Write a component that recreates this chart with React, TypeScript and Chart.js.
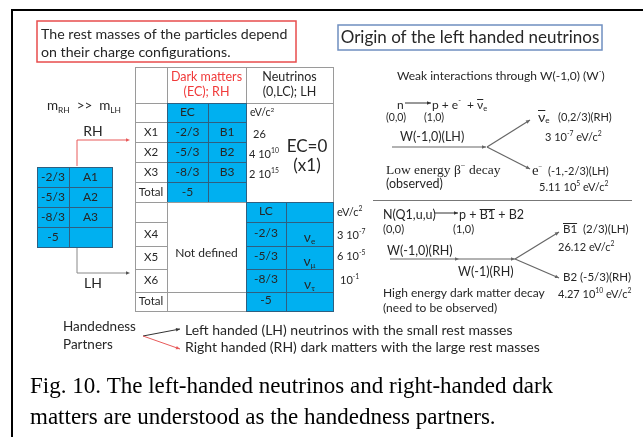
import { useEffect, useRef } from "react";
import { Chart, registerables } from "chart.js";

Chart.register(...registerables);

// ---------------- DATA ----------------
const upperRowLabels = ["", "X1", "X2", "X3", "Total"];
const lowerRowLabels = ["", "X4", "X5", "X6", "Total"];
const darkCharges = ["EC", "-2/3", "-5/3", "-8/3", "-5"];
const darkNames = ["", "B1", "B2", "B3", ""];
const darkMassMant = ["26", "4 10", "2 10"];
const darkMassExp = ["", "10", "15"];
const neutrinoCharges = ["LC", "-2/3", "-5/3", "-8/3", "-5"];
const neutrinoFlavors = ["", "e", "μ", "τ", ""];
const neutrinoMassMant = ["3 10", "6 10", "10"];
const neutrinoMassExp = ["-7", "-5", "-1"];
const leftCharges = ["-2/3", "-5/3", "-8/3", "-5"];
const leftNames = ["A1", "A2", "A3", ""];
const decayLowProducts = ["(0,2/3)(RH)", "(-1,-2/3)(LH)"];
const decayLowMasses = [["3 10", "-7"], ["5.11 10", "5"]];
const decayHighProducts = ["(2/3)(LH)", "(-5/3)(RH)"];
const decayHighMasses = [["26.12", ""], ["4.27 10", "10"]];

// ---------------- LAYOUT ----------------
const COLS = [135, 167, 208, 246, 286, 333];
const UPPER_ROWS = [103, 122, 142, 162, 182, 202];
const LOWER_ROWS = [202, 222, 246, 269, 292, 311];
const HEADER_TOP = 67;
const LEFT_COLS = [37, 69, 112];
const LEFT_ROWS = [167, 187, 207, 227, 247];

const SANS = "Lato, 'Open Sans', 'DejaVu Sans', sans-serif";
const SERIF = "'Liberation Serif', 'DejaVu Serif', serif";
const BLUE = "#00b0f0";
const BLUE_LINE = "#2f5f80";
const GRID = "#9a9a9a";
const TXT = "#262626";
const RED = "#f03a3a";

type Seg = { t: string; s?: "sup" | "sub"; bar?: boolean; k?: number; f?: string };

const diagramPlugin = {
  id: "diagram",
  beforeDraw(chart: any) {
    const c = chart.ctx;
    c.save();
    c.fillStyle = "#ffffff";
    c.fillRect(0, 0, chart.width, chart.height);
    c.restore();
  },
  afterDraw(chart: any) {
    const ctx: CanvasRenderingContext2D = chart.ctx;
    const sx = chart.scales.x;
    const sy = chart.scales.y;
    const X = (v: number) => sx.getPixelForValue(v);
    const Y = (v: number) => sy.getPixelForValue(v);

    ctx.save();

    const rich = (
      segs: Seg[],
      x: number,
      y: number,
      size: number,
      color = TXT,
      align: "left" | "center" | "right" = "left",
      family = SANS
    ) => {
      const parts = segs.map((sg) => {
        const sz = sg.s ? size * 0.62 * (sg.k || 1) : size * (sg.k || 1);
        const fam = sg.f || family;
        ctx.font = `${sz}px ${fam}`;
        return { sg, sz, fam, w: ctx.measureText(sg.t).width };
      });
      const total = parts.reduce((a, p) => a + p.w, 0);
      let cx = X(x);
      if (align === "center") cx -= total / 2;
      if (align === "right") cx -= total;
      const cy = Y(y);
      ctx.fillStyle = color;
      ctx.strokeStyle = color;
      ctx.textBaseline = "middle";
      ctx.textAlign = "left";
      for (const p of parts) {
        ctx.font = `${p.sz}px ${p.fam}`;
        let dy = 0;
        if (p.sg.s === "sup") dy = -size * 0.33;
        if (p.sg.s === "sub") dy = size * 0.3;
        ctx.fillText(p.sg.t, cx, cy + dy);
        if (p.sg.bar) {
          ctx.lineWidth = 1;
          ctx.beginPath();
          const by = Math.round(cy + dy - p.sz * 0.5) + 0.5;
          ctx.moveTo(cx, by);
          ctx.lineTo(cx + p.w, by);
          ctx.stroke();
        }
        cx += p.w;
      }
    };
    const text = (t: string, x: number, y: number, size: number, color = TXT, align: any = "left", family = SANS) =>
      rich([{ t }], x, y, size, color, align, family);

    const cell = (x0: number, y0: number, x1: number, y1: number, fill: string, stroke: string) => {
      const px0 = Math.round(X(x0)), py0 = Math.round(Y(y0));
      const px1 = Math.round(X(x1)), py1 = Math.round(Y(y1));
      ctx.fillStyle = fill;
      ctx.fillRect(px0, py0, px1 - px0, py1 - py0);
      ctx.strokeStyle = stroke;
      ctx.lineWidth = 1;
      ctx.strokeRect(px0 + 0.5, py0 + 0.5, px1 - px0, py1 - py0);
    };

    const line = (pts: number[][], color: string, lw = 1) => {
      ctx.strokeStyle = color;
      ctx.lineWidth = lw;
      ctx.beginPath();
      pts.forEach((p, i) => {
        const px = X(p[0]), py = Y(p[1]);
        if (i === 0) ctx.moveTo(px, py);
        else ctx.lineTo(px, py);
      });
      ctx.stroke();
    };

    const head = (x0: number, y0: number, x1: number, y1: number, color: string, hs = 4) => {
      const a = Math.atan2(Y(y1) - Y(y0), X(x1) - X(x0));
      const px = X(x1), py = Y(y1);
      ctx.fillStyle = color;
      ctx.beginPath();
      ctx.moveTo(px, py);
      ctx.lineTo(px - hs * Math.cos(a) + hs * 0.45 * Math.sin(a), py - hs * Math.sin(a) - hs * 0.45 * Math.cos(a));
      ctx.lineTo(px - hs * Math.cos(a) - hs * 0.45 * Math.sin(a), py - hs * Math.sin(a) + hs * 0.45 * Math.cos(a));
      ctx.closePath();
      ctx.fill();
    };
    const arrow = (x0: number, y0: number, x1: number, y1: number, color: string, lw = 1, hs = 4) => {
      line([[x0, y0], [x1, y1]], color, lw);
      head(x0, y0, x1, y1, color, hs);
    };

    // outer frame
    ctx.strokeStyle = "#000";
    ctx.lineWidth = 2;
    ctx.beginPath();
    ctx.moveTo(X(12), Y(437));
    ctx.lineTo(X(12), Y(10));
    ctx.lineTo(X(643), Y(10));
    ctx.stroke();

    // red note box
    ctx.strokeStyle = "#e84c4c";
    ctx.lineWidth = 1.5;
    ctx.strokeRect(X(37), Y(21), X(296) - X(37), Y(62) - Y(21));
    text("The rest masses of the particles depend", 41, 34, 14.2);
    text("on their charge configurations.", 41, 52, 14.2);

    // blue title box
    ctx.strokeStyle = "#6f8fc0";
    ctx.lineWidth = 1.5;
    ctx.strokeRect(X(338), Y(25), X(602) - X(338), Y(50) - Y(25));
    text("Origin of the left handed neutrinos", 470, 38, 17, TXT, "center");

    // ---------- main table ----------
    cell(COLS[0], HEADER_TOP, COLS[1], UPPER_ROWS[0], "#fff", GRID);
    cell(COLS[1], HEADER_TOP, COLS[3], UPPER_ROWS[0], "#fff", GRID);
    cell(COLS[3], HEADER_TOP, COLS[5], UPPER_ROWS[0], "#fff", GRID);
    text("Dark matters", (COLS[1] + COLS[3]) / 2, 77, 12.5, RED, "center");
    text("(EC); RH", (COLS[1] + COLS[3]) / 2, 92, 12.5, RED, "center");
    text("Neutrinos", (COLS[3] + COLS[5]) / 2, 77, 12.5, TXT, "center");
    text("(0,LC); LH", (COLS[3] + COLS[5]) / 2, 92, 12.5, TXT, "center");

    // upper block
    cell(COLS[3], UPPER_ROWS[0], COLS[5], UPPER_ROWS[5], "#fff", GRID);
    for (let i = 0; i < 5; i++) {
      const y0 = UPPER_ROWS[i], y1 = UPPER_ROWS[i + 1];
      const cy = (y0 + y1) / 2;
      cell(COLS[0], y0, COLS[1], y1, "#fff", GRID);
      if (upperRowLabels[i]) text(upperRowLabels[i], (COLS[0] + COLS[1]) / 2, cy, 11.5, TXT, "center");
    }
    for (let i = 0; i < 5; i++) {
      const y0 = UPPER_ROWS[i], y1 = UPPER_ROWS[i + 1];
      const cy = (y0 + y1) / 2;
      cell(COLS[1], y0, COLS[2], y1, BLUE, BLUE_LINE);
      cell(COLS[2], y0, COLS[3], y1, BLUE, BLUE_LINE);
      text(darkCharges[i], (COLS[1] + COLS[2]) / 2, cy, 12, TXT, "center");
      if (darkNames[i]) text(darkNames[i], (COLS[2] + COLS[3]) / 2, cy, 12, TXT, "center");
    }
    rich([{ t: "eV/c" }, { t: "2", s: "sup" }], 250, 113, 10.5);
    for (let i = 0; i < darkMassMant.length; i++) {
      const cy = (UPPER_ROWS[i + 1] + UPPER_ROWS[i + 2]) / 2 + 2;
      const segs: Seg[] = [{ t: darkMassMant[i] }];
      if (darkMassExp[i]) segs.push({ t: darkMassExp[i], s: "sup" });
      rich(segs, i === 0 ? 253 : 249, cy, 11);
    }
    text("EC=0", 307, 147, 17, TXT, "center");
    text("(x1)", 307, 166, 17, TXT, "center");

    // lower block
    for (let i = 0; i < 5; i++) {
      const y0 = LOWER_ROWS[i], y1 = LOWER_ROWS[i + 1];
      const cy = (y0 + y1) / 2;
      cell(COLS[0], y0, COLS[1], y1, "#fff", GRID);
      if (lowerRowLabels[i]) text(lowerRowLabels[i], (COLS[0] + COLS[1]) / 2, cy, 11.5, TXT, "center");
    }
    cell(COLS[1], LOWER_ROWS[0], COLS[3], LOWER_ROWS[4], "#fff", GRID);
    cell(COLS[1], LOWER_ROWS[4], COLS[3], LOWER_ROWS[5], "#fff", GRID);
    text("Not defined", (COLS[1] + COLS[3]) / 2, 253, 12, TXT, "center");
    for (let i = 0; i < 5; i++) {
      const y0 = LOWER_ROWS[i], y1 = LOWER_ROWS[i + 1];
      const cy = (y0 + y1) / 2;
      cell(COLS[3], y0, COLS[4], y1, BLUE, BLUE_LINE);
      cell(COLS[4], y0, COLS[5], y1, BLUE, BLUE_LINE);
      text(neutrinoCharges[i], (COLS[3] + COLS[4]) / 2, cy - 1, 12, TXT, "center");
      if (neutrinoFlavors[i])
        rich([{ t: "ν", k: 1.15 }, { t: neutrinoFlavors[i], s: "sub", k: 1.1 }], (COLS[4] + COLS[5]) / 2, cy + 4, 12, TXT, "center");
    }
    rich([{ t: "eV/c" }, { t: "2", s: "sup" }], 337, 212, 11);
    const nmY = [235, 256, 280];
    for (let i = 0; i < neutrinoMassMant.length; i++) {
      rich([{ t: neutrinoMassMant[i] }, { t: neutrinoMassExp[i], s: "sup" }], i === 2 ? 340 : 337, nmY[i], 11);
    }

    // ---------- left small table ----------
    for (let i = 0; i < 4; i++) {
      const y0 = LEFT_ROWS[i], y1 = LEFT_ROWS[i + 1];
      const cy = (y0 + y1) / 2;
      cell(LEFT_COLS[0], y0, LEFT_COLS[1], y1, BLUE, BLUE_LINE);
      cell(LEFT_COLS[1], y0, LEFT_COLS[2], y1, BLUE, BLUE_LINE);
      text(leftCharges[i], (LEFT_COLS[0] + LEFT_COLS[1]) / 2, cy, 12, TXT, "center");
      if (leftNames[i]) text(leftNames[i], (LEFT_COLS[1] + LEFT_COLS[2]) / 2, cy, 12, TXT, "center");
    }
    rich([{ t: "m" }, { t: "RH", s: "sub" }, { t: "  >>  m" }, { t: "LH", s: "sub" }], 47, 106, 13.5);
    text("RH", 93, 131, 14, TXT, "center");
    text("LH", 93, 283, 14, TXT, "center");
    line([[77, 166], [77, 140], [128, 140]], "#e85a5a", 1);
    head(77, 140, 130, 140, "#e85a5a", 4);
    line([[77, 248], [77, 273], [128, 273]], "#888", 1);
    head(77, 273, 130, 273, "#555", 4);

    // ---------- right: low energy beta decay ----------
    rich([{ t: "Weak interactions through W(-1,0) (W" }, { t: "-", s: "sup" }, { t: ")" }], 397, 76, 12);
    text("n", 397, 105, 12);
    arrow(405, 103, 431, 103, "#333", 1, 4);
    rich([{ t: "p + e" }, { t: "-", s: "sup" }, { t: "  + " }, { t: "ν", bar: true }, { t: "e", s: "sub" }], 432, 105, 12);
    text("(0,0)", 386, 118, 10.5);
    text("(1,0)", 424, 118, 10.5);
    text("W(-1,0)(LH)", 400, 137, 12.5);
    arrow(392, 147, 486, 147, "#666", 1.2, 4);
    arrow(487, 147, 530, 120, "#666", 1.2, 4);
    arrow(487, 147, 530, 169, "#666", 1.2, 4);
    rich([{ t: "ν", bar: true, k: 1.3 }, { t: "e", s: "sub", k: 1.2 }, { t: "   " + decayLowProducts[0] }], 538, 117, 11);
    rich([{ t: decayLowMasses[0][0] }, { t: decayLowMasses[0][1], s: "sup" }, { t: " eV/c" }, { t: "2", s: "sup" }], 545, 137, 11);
    rich([{ t: "Low energy β" }, { t: "−", s: "sup" }, { t: " decay" }], 386, 170, 13.5, TXT, "left", SERIF);
    text("(observed)", 386, 184, 12.5);
    rich([{ t: "e", f: SERIF, k: 1.35 }, { t: "−", s: "sup", f: SERIF }, { t: "  " + decayLowProducts[1] }], 532, 171, 11);
    rich([{ t: decayLowMasses[1][0] }, { t: decayLowMasses[1][1], s: "sup" }, { t: " eV/c" }, { t: "2", s: "sup" }], 539, 187, 11);

    // separator
    line([[373, 200.5], [632, 200.5]], "#777", 1);

    // ---------- right: high energy dark matter decay ----------
    text("N(Q1,u,u)", 383, 215, 12.5);
    arrow(435, 213, 458, 213, "#333", 1, 4);
    rich([{ t: "p + " }, { t: "B1", bar: true }, { t: " + B2" }], 459, 215, 12.5);
    text("(0,0)", 383, 229, 11);
    text("(1,0)", 453, 229, 11);
    text("W(-1,0)(RH)", 387, 251, 12.5);
    arrow(390, 259, 459, 259, "#666", 1.2, 4);
    arrow(459, 259, 515, 259, "#666", 1.2, 4);
    arrow(515, 259, 559, 232, "#666", 1.2, 4);
    arrow(515, 259, 559, 278, "#666", 1.2, 4);
    text("W(-1)(RH)", 458, 272, 12.5);
    rich([{ t: "B1", bar: true }, { t: "  " + decayHighProducts[0] }], 563, 229, 11.5);
    rich([{ t: decayHighMasses[0][0] + " eV/c" }, { t: "2", s: "sup" }], 558, 247, 11);
    rich([{ t: "B2 " + decayHighProducts[1] }], 563, 277, 11.5);
    rich([{ t: decayHighMasses[1][0] }, { t: decayHighMasses[1][1], s: "sup" }, { t: " eV/c" }, { t: "2", s: "sup" }], 558, 294, 11);
    text("High energy dark matter decay", 383, 293, 12);
    text("(need to be observed)", 383, 308, 12);

    // ---------- handedness partners ----------
    text("Handedness", 63, 327, 13.5);
    text("Partners", 63, 345, 13.5);
    arrow(143, 336, 180, 329, "#333", 1, 4);
    arrow(143, 336, 180, 349, "#e85a5a", 1, 4);
    text("Left handed (LH) neutrinos with the small rest masses", 185, 330, 14);
    text("Right handed (RH) dark matters with the large rest masses", 185, 347, 14);

    // ---------- caption ----------
    text("Fig. 10. The left-handed neutrinos and right-handed dark", 30, 387, 23, "#000", "left", SERIF);
    text("matters are understood as the handedness partners.", 30, 418, 23, "#000", "left", SERIF);

    ctx.restore();
  },
};

export default function App() {
  const ref = useRef<HTMLCanvasElement | null>(null);
  useEffect(() => {
    if (!ref.current) return;
    const chart = new Chart(ref.current, {
      type: "scatter",
      data: { datasets: [{ data: [], pointRadius: 0 }] },
      options: {
        animation: false,
        responsive: false,
        events: [],
        layout: { padding: 0 },
        plugins: { legend: { display: false }, tooltip: { enabled: false } },
        scales: {
          x: { type: "linear", min: 0, max: 643, display: false },
          y: { type: "linear", min: 0, max: 437, reverse: true, display: false },
        },
      },
      plugins: [diagramPlugin],
    } as any);
    return () => chart.destroy();
  }, []);
  return (
    <div style={{ position: "fixed", left: 0, top: 0, width: 643, height: 437, background: "#fff" }}>
      <canvas ref={ref} width={643} height={437} style={{ display: "block" }} />
    </div>
  );
}
